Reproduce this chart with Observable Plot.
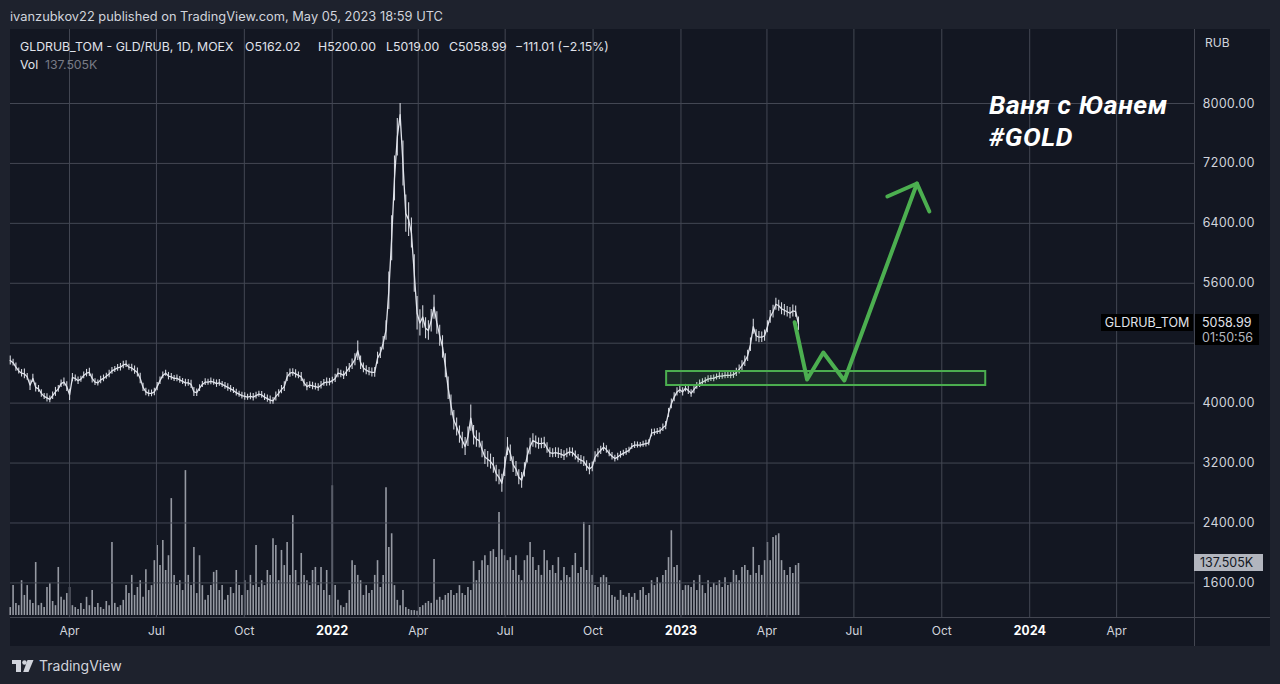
<!DOCTYPE html>
<html><head><meta charset="utf-8">
<script src="https://cdn.jsdelivr.net/npm/d3@7"></script>
<script src="https://cdn.jsdelivr.net/npm/@observablehq/plot@0.6"></script>
<style>
html,body{margin:0;padding:0;background:#1e222d;width:1280px;height:684px;overflow:hidden;font-family:Inter,"Noto Sans",sans-serif;color:#d1d4dc;}
#wrap{position:relative;width:1280px;height:684px;}
.abs{position:absolute;white-space:nowrap;}
#pane{position:absolute;left:10px;top:29px;width:1260px;height:617px;background:#131722;}
#layers svg{position:absolute;left:0;top:0;}
.line{position:absolute;background:#434651;}
</style></head><body><div id="wrap">
<div class="abs" style="left:10px;top:9px;font-size:12.85px;">ivanzubkov22 published on TradingView.com, May 05, 2023 18:59 UTC</div>
<div id="pane"></div>
<div id="layers"></div>
<div class="line" style="left:10px;top:617px;width:1260px;height:1px;"></div>
<div class="line" style="left:1194px;top:29px;width:1px;height:617px;"></div>
<div id="legend"></div>
<div class="abs" style="left:12px;top:657px;display:flex;align-items:center;gap:5px;font-size:14px;color:#d1d4dc;">
<svg width="22" height="14" viewBox="0 0 22 14" style="position:static"><rect x="0" y="1" width="9" height="4" fill="#d1d4dc"/><rect x="4" y="1" width="5" height="12" fill="#d1d4dc"/><circle cx="12.5" cy="3.5" r="2.3" fill="#d1d4dc"/><polygon points="15.5,1 21.5,1 16.5,13 11.2,13" fill="#d1d4dc"/></svg>
<span>TradingView</span></div>
</div>
<script>
// ---- data: sampled closes (RUB), ~every 3 calendar days, 29 Jan 2021 .. 4 May 2023
const closes = [
4570,4540,4480,4430,4400,4390,4350,4240,4330,4210,
4190,4130,4090,4070,4050,4100,4150,4190,4260,4280,
4220,4110,4340,4330,4300,4320,4370,4400,4410,4330,
4280,4270,4310,4330,4360,4390,4430,4450,4470,4480,
4510,4520,4480,4470,4440,4410,4330,4210,4150,4130,
4130,4150,4220,4300,4370,4400,4360,4350,4330,4330,
4310,4290,4270,4270,4250,4150,4140,4200,4250,4280,
4280,4290,4280,4260,4270,4250,4230,4210,4190,4170,
4140,4120,4100,4090,4080,4090,4080,4100,4120,4110,
4080,4060,4040,4030,4090,4130,4180,4220,4350,4400,
4410,4390,4370,4350,4270,4220,4240,4230,4220,4210,
4240,4270,4280,4280,4300,4330,4400,4390,4370,4420,
4470,4520,4580,4700,4540,4470,4440,4420,4410,4410,
4600,4670,4800,4970,5500,6200,7000,7550,7850,7200,
6530,6450,6270,5730,5200,5070,5150,5000,4970,5100,
5280,5070,4900,4750,4500,4200,3970,3770,3680,3580,
3500,3420,3550,3800,3570,3520,3500,3380,3280,3250,
3220,3170,3060,3010,2930,3150,3420,3330,3180,3120,
3010,2970,3110,3300,3420,3500,3480,3460,3460,3470,
3400,3340,3330,3340,3330,3320,3300,3330,3350,3340,
3300,3260,3240,3220,3160,3120,3150,3280,3330,3370,
3410,3380,3330,3290,3260,3280,3310,3330,3350,3370,
3420,3440,3440,3440,3450,3460,3470,3600,3610,3620,
3630,3670,3700,3870,3990,4080,4150,4180,4150,4200,
4170,4130,4180,4230,4260,4280,4300,4320,4330,4330,
4350,4360,4360,4370,4370,4370,4380,4410,4450,4500,
4560,4630,4780,5020,4900,4880,4880,4900,5020,5150,
5220,5320,5300,5260,5240,5220,5200,5230,5220,5058.99
];
// candle high-low spread around each sample (RUB)
const ranges = [
120,90,110,80,100,130,90,140,110,120,
90,100,80,110,90,100,120,90,100,110,
130,150,110,90,100,80,90,100,110,120,
90,80,100,90,80,100,90,80,90,100,
100,90,80,100,110,120,140,110,100,90,
90,100,110,100,90,80,100,90,80,90,
90,80,100,90,110,120,100,90,80,90,
80,90,80,100,90,80,90,100,90,80,
90,80,90,100,80,90,100,90,80,90,
90,100,110,90,120,100,110,130,120,110,
100,110,90,120,100,110,90,100,90,100,
100,90,110,100,90,110,120,100,110,130,
120,140,160,260,180,130,120,110,120,130,
160,150,180,260,500,600,600,500,300,600,
500,450,400,500,450,350,300,280,260,300,
320,300,280,300,320,300,280,260,240,230,
220,240,260,350,260,220,200,220,200,210,
200,210,220,200,240,260,240,220,210,200,
200,210,190,200,220,180,160,150,140,150,
140,130,120,130,140,120,130,120,110,120,
120,110,120,130,140,150,130,140,120,110,
110,100,90,100,90,100,90,80,90,80,
80,90,80,70,80,90,80,100,90,80,
90,100,110,120,130,120,110,100,110,100,
110,100,110,90,100,90,80,90,80,90,
80,90,80,90,80,90,100,110,120,130,
140,150,180,200,160,150,140,150,160,170,
170,160,150,160,150,140,150,160,150,181
];
// volume, thousands
const volumes = [
21,79,32,26,92,53,79,40,32,140,
26,32,21,74,84,37,26,127,48,40,
58,74,26,21,16,32,16,48,26,66,
21,32,21,16,37,26,193,32,21,26,
40,79,58,106,53,74,92,48,121,66,
79,145,185,132,198,119,158,309,106,79,
92,66,383,106,79,180,58,158,79,40,
53,79,114,119,66,79,40,53,74,58,
119,79,53,92,66,106,79,185,74,92,
79,119,106,203,185,92,172,132,193,106,
264,119,79,164,106,92,79,119,127,79,
127,66,119,53,343,79,40,26,21,32,
66,145,132,106,92,53,79,58,66,106,
145,74,106,338,180,216,79,40,26,66,
21,16,13,13,11,21,26,32,37,32,
148,40,48,40,53,58,66,53,58,79,
58,53,74,66,143,92,119,145,158,132,
169,174,153,272,174,158,145,153,119,158,
106,92,145,158,193,153,119,132,106,172,
145,119,132,111,153,92,127,106,100,132,
164,111,127,246,119,238,106,79,74,100,
106,100,79,53,48,40,66,53,48,58,
48,58,40,66,74,53,58,92,79,100,
85,106,119,153,224,127,132,92,66,79,
79,74,92,66,106,79,58,92,74,85,
79,92,74,100,79,87,119,106,92,127,
132,119,106,180,111,132,106,145,193,145,
206,211,216,145,119,106,127,111,132,137.505
];
const seriesStart = "2021-01-29", seriesEnd = "2023-05-04";
const gridTicks = [1600,2400,3200,4000,4800,5600,6400,7200,8000];
const labelTicks = [1600,2400,3200,4000,5600,6400,7200,8000]; // 4800 sits under the price tag
const monthTicks = ["2021-04-01","2021-07-01","2021-10-01","2022-04-01","2022-07-01","2022-10-01","2023-04-01","2023-07-01","2023-10-01","2024-04-01"];
const yearTicks = ["2022-01-01","2023-01-01","2024-01-01"];
// drawings (time, price)
const zoneDates = ["2022-12-17","2023-11-16"], zonePrices = [4235,4422];
const pathDates = ["2023-04-30","2023-05-13","2023-05-30","2023-06-21","2023-09-05"];
const pathPrices = [5080,4315,4676,4302,6932];
const headDates = ["2023-08-05","2023-09-05","2023-09-18"];
const headPrices = [6758,6932,6558];
const lastClose = 5058.99, lastVol = 137.505;

const D = s => new Date(s);
const t0 = +D(seriesStart), t1 = +D(seriesEnd);
const rows = closes.map((c,i)=>({date:new Date(t0 + i*(t1-t0)/(closes.length-1)), close:c, lo:c-ranges[i]/2, hi:c+ranges[i]/2, vol:volumes[i]}));
const path = pathDates.map((d,i)=>({date:D(d), price:pathPrices[i]}));
const head = headDates.map((d,i)=>({date:D(d), price:headPrices[i]}));
const zone = [{x1:D(zoneDates[0]), x2:D(zoneDates[1]), y1:zonePrices[0], y2:zonePrices[1]}];

const xDomain = [D("2021-01-29T06:00Z"), D("2024-06-21T12:00Z")];
const common = {width:1280, height:646, marginTop:29, marginLeft:10, marginRight:86,
  style:{background:"transparent", color:"#d1d4dc", fontFamily:"Inter, sans-serif"}};
const grid = "#434753";

const volPlot = Plot.plot({...common, marginBottom:31,
  x:{type:"utc", domain:xDomain, axis:null},
  y:{domain:[0,1549], axis:null},
  marks:[Plot.ruleX(rows,{x:"date", y1:0, y2:"vol", stroke:"#b8bbc4", strokeWidth:1.6, strokeOpacity:0.8})]
});
const mainPlot = Plot.plot({...common, marginBottom:29,
  x:{type:"utc", domain:xDomain, axis:null},
  y:{domain:[1138,8988], axis:null},
  marks:[
    Plot.gridY(gridTicks,{stroke:grid, strokeOpacity:1}),
    Plot.gridX([...monthTicks,...yearTicks].map(D),{stroke:grid, strokeOpacity:1}),
    Plot.axisY(labelTicks,{anchor:"right", tickSize:0, tickPadding:8, tickFormat:d3.format(".2f"), fontSize:12.5, color:"#d1d4dc", label:null}),
    Plot.axisX(monthTicks.map(D),{anchor:"bottom", tickSize:0, tickPadding:9, tickFormat:d3.utcFormat("%b"), fontSize:12, color:"#d1d4dc", label:null}),
    Plot.axisX(yearTicks.map(D),{anchor:"bottom", tickSize:0, tickPadding:9, tickFormat:d3.utcFormat("%Y"), fontSize:12.5, fontWeight:"bold", color:"#ffffff", label:null}),
    Plot.ruleX(rows,{x:"date", y1:"lo", y2:"hi", stroke:"#d1d4dc", strokeWidth:1.1}),
    Plot.line(rows,{x:"date", y:"close", stroke:"#e0e3eb", strokeWidth:1.3}),
    Plot.rect(zone,{x1:"x1", x2:"x2", y1:"y1", y2:"y2", fill:"#4caf50", fillOpacity:0.13, stroke:"#4caf50", strokeWidth:2}),
    Plot.line(path,{x:"date", y:"price", stroke:"#4caf50", strokeWidth:4, strokeLinejoin:"round", strokeLinecap:"round"}),
    Plot.line(head,{x:"date", y:"price", stroke:"#4caf50", strokeWidth:4, strokeLinejoin:"round", strokeLinecap:"round"})
  ]
});
const layers = document.getElementById("layers");
layers.appendChild(volPlot);
layers.appendChild(mainPlot);

// overlays positioned through the scales
const yP = mainPlot.scale("y").apply(lastClose);
const yV = volPlot.scale("y").apply(lastVol);
const leg = document.getElementById("legend");
function add(html, css){const e=document.createElement("div");e.className="abs";e.style.cssText=css;e.innerHTML=html;leg.appendChild(e);return e;}
const lg = "top:38px;font-size:12.3px;line-height:17px;color:#e0e3eb;";
add("GLDRUB_TOM - GLD/RUB, 1D, MOEX","left:20px;"+lg);
add("O5162.02","left:245px;"+lg);
add("H5200.00","left:318px;"+lg);
add("L5019.00","left:386px;"+lg);
add("C5058.99","left:449px;"+lg);
add("−111.01 (−2.15%)","left:515px;"+lg);
add("Vol","left:20px;top:56px;font-size:12.3px;line-height:17px;color:#e0e3eb;");
add("137.505K","left:45px;top:56px;font-size:12.3px;line-height:17px;color:#787b86;");
add("RUB","left:1205px;top:35px;font-size:12px;line-height:15px;color:#d1d4dc;");
const big = "font-size:26.5px;line-height:31px;font-weight:bold;font-style:italic;color:#ffffff;font-family:Roboto,Inter,sans-serif;letter-spacing:0.6px;";
add("Ваня с Юанем","left:989px;top:89px;"+big);
add("#GOLD","left:989px;top:121px;"+big);
add("GLDRUB_TOM",`left:1101px;top:${yP-9}px;width:92px;height:17px;line-height:17px;text-align:center;font-size:12.5px;background:#000;color:#e0e3eb;`);
add("5058.99<br><span style='color:#b2b5be'>01:50:56</span>",`left:1195px;top:${yP-9}px;width:64px;height:31px;line-height:15px;padding-top:1px;padding-left:7px;box-sizing:border-box;font-size:12.5px;background:#000;color:#e0e3eb;`);
add("137.505K",`left:1194px;top:${yV-9}px;width:69px;height:17px;line-height:17px;padding-left:6px;box-sizing:border-box;font-size:12.5px;background:#b2b5be;color:#131722;`);
</script>
</body></html>
